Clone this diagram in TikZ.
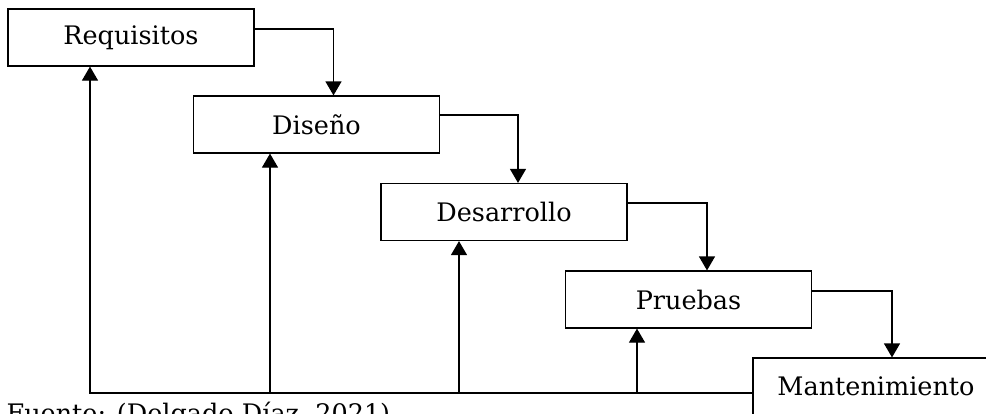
\documentclass[tikz,border=0pt]{standalone}
\usepackage{fontspec}
\setmainfont{DejaVu Serif}
\usetikzlibrary{arrows.meta}

\begin{document}
\begin{tikzpicture}[x=1pt, y=-1pt, line width=1.2pt,
    stage/.style={draw, rectangle, minimum width=246pt, minimum height=57pt, inner sep=0pt, font=\fontsize{25.5}{28}\selectfont},
    flow/.style={-{Triangle[length=14pt, width=16pt]}}]
  \useasboundingbox (0,0) rectangle (986,413);

  % Stages
  \node[stage] (req) at (131,37.5) {Requisitos};
  \node[stage] (dis) at (316.5,124.5) {Diseño};
  \node[stage] (des) at (504,212) {Desarrollo};
  \node[stage] (pru) at (688.5,299.5) {Pruebas};
  \node[stage] (man) at (876,386.5) {Mantenimiento};

  % Forward arrows (stage to next stage)
  \draw[flow] ([yshift=8.5pt]req.east) -| ([xshift=17pt]dis.north);
  \draw[flow] ([yshift=9.5pt]dis.east) -| ([xshift=14pt]des.north);
  \draw[flow] ([yshift=9pt]des.east) -| ([xshift=18.5pt]pru.north);
  \draw[flow] ([yshift=8.5pt]pru.east) -| ([xshift=16pt]man.north);

  % Feedback line along the bottom
  \coordinate (bot) at ([yshift=-6.5pt]man.west);
  \draw[flow] (bot) -| ([xshift=-41pt]req.south);
  \foreach \s/\dx in {dis/-46.5, des/-45, pru/-51.5}
    \draw[flow] ([xshift=\dx pt]\s.south |- bot) -- ([xshift=\dx pt]\s.south);

  % Source caption
  \node[anchor=base west, inner sep=0pt, font=\fontsize{25.5}{28}\selectfont] (src) at (6,422.5) {Fuente: (Delgado Díaz, 2021)};
\end{tikzpicture}
\end{document}
